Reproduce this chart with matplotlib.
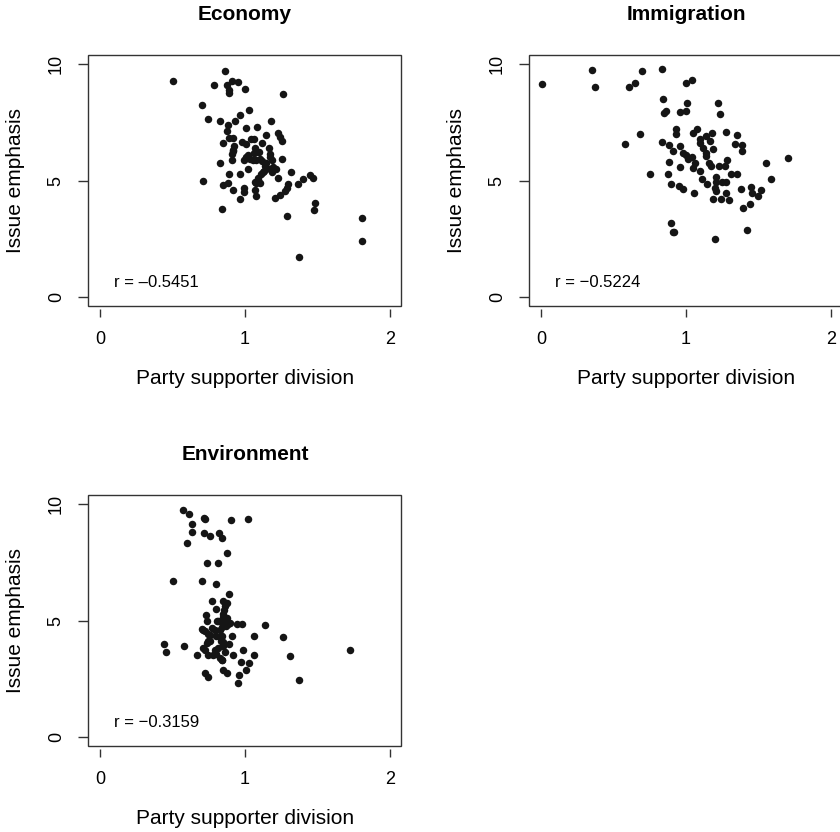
import matplotlib
matplotlib.use('Agg')
import matplotlib.pyplot as plt
from matplotlib.patches import Rectangle

plt.rcParams['font.family'] = ['Liberation Sans', 'DejaVu Sans']

# 数据：政党支持者分化 vs 议题强调
econ_x = [0.506, 0.860, 0.789, 0.874, 0.908, 0.949, 0.892, 0.890, 1.000, 1.260,
          0.703, 1.030, 0.963, 0.747, 0.830, 0.929, 0.880, 1.180, 1.010, 1.085,
          0.876, 1.230, 0.890, 0.920, 1.040, 1.064, 1.147, 1.240, 1.255, 0.846,
          0.982, 1.007, 1.120, 0.926, 1.070, 1.168, 0.920, 0.913, 1.060, 1.100,
          1.170, 1.005, 1.020, 1.035, 1.080, 1.120, 0.910, 0.995, 1.190, 1.255,
          0.828, 1.138, 1.170, 1.218, 1.020, 1.133, 1.190, 1.320, 0.892, 0.966,
          1.110, 1.448, 1.467, 1.400, 0.708, 1.087, 1.225, 1.368, 1.074, 1.103,
          0.880, 0.846, 1.300, 1.290, 1.276, 0.993, 0.995, 0.920, 1.067, 1.239,
          1.207, 1.080, 0.966, 1.487, 1.474, 0.844, 1.290, 1.810, 1.810, 1.370,
          1.011, 1.057, 1.103, 1.149, 1.195, 1.126, 1.092, 1.069, 1.172, 1.080,
          0.920]
econ_y = [9.30, 9.73, 9.10, 9.10, 9.30, 9.24, 8.91, 8.77, 8.94, 8.73,
          8.23, 8.05, 7.83, 7.65, 7.58, 7.55, 7.37, 7.54, 7.24, 7.30,
          7.12, 7.05, 6.84, 6.81, 6.80, 6.80, 6.97, 6.87, 6.70, 6.60,
          6.67, 6.57, 6.60, 6.48, 6.38, 6.41, 6.27, 6.12, 6.19, 6.22,
          6.15, 6.01, 6.08, 5.91, 5.88, 5.84, 5.88, 5.88, 5.87, 5.94,
          5.77, 5.62, 5.48, 5.51, 5.48, 5.41, 5.37, 5.35, 5.26, 5.26,
          5.26, 5.24, 5.12, 5.05, 4.98, 5.02, 5.12, 4.84, 4.91, 4.91,
          4.91, 4.79, 4.84, 4.69, 4.55, 4.69, 4.52, 4.58, 4.59, 4.36,
          4.26, 4.33, 4.22, 4.02, 3.72, 3.78, 3.46, 3.40, 2.40, 1.70,
          5.95, 5.88, 5.91, 5.74, 5.59, 5.38, 5.09, 4.95, 6.02, 6.24,
          6.31]

immi_x = [0.005, 0.354, 0.375, 0.697, 0.837, 0.609, 0.648, 1.002, 1.044, 0.841,
          0.848, 0.862, 0.961, 0.998, 1.009, 1.220, 1.232, 0.683, 0.579, 0.929,
          0.931, 1.050, 1.074, 1.136, 1.177, 1.280, 1.354, 0.834, 0.885, 0.913,
          0.956, 1.100, 1.165, 1.120, 1.184, 1.336, 1.386, 1.388, 0.982, 1.000,
          1.039, 1.138, 1.016, 1.064, 0.880, 0.959, 1.050, 1.100, 1.161, 1.170,
          1.230, 1.269, 1.285, 1.556, 1.706, 0.752, 0.874, 1.313, 1.354, 1.211,
          1.584, 1.113, 0.897, 0.954, 0.982, 1.149, 1.205, 1.246, 1.280, 1.200,
          1.207, 1.377, 1.446, 1.453, 1.515, 1.497, 1.053, 1.276, 1.184, 1.239,
          1.300, 1.441, 1.391, 0.897, 0.913, 0.920, 1.423, 1.202, 1.097, 1.142]
immi_y = [9.17, 9.76, 9.04, 9.73, 9.80, 9.03, 9.20, 9.20, 9.31, 8.51,
          7.91, 7.98, 7.95, 8.01, 8.33, 8.34, 7.87, 6.98, 6.55, 7.20,
          6.98, 7.05, 7.20, 6.91, 7.05, 7.10, 6.95, 6.67, 6.51, 6.27,
          6.48, 6.60, 6.70, 6.41, 6.34, 6.55, 6.51, 6.27, 6.19, 6.08,
          6.02, 6.05, 5.91, 5.77, 5.79, 5.58, 5.52, 5.41, 5.74, 5.62,
          5.62, 5.62, 5.88, 5.74, 5.98, 5.26, 5.26, 5.28, 5.28, 5.16,
          5.08, 5.05, 4.86, 4.76, 4.65, 4.84, 4.94, 4.94, 4.94, 4.69,
          4.55, 4.62, 4.72, 4.48, 4.59, 4.32, 4.45, 4.48, 4.19, 4.19,
          4.16, 3.98, 3.81, 3.15, 2.80, 2.79, 2.86, 2.50, 6.77, 6.20]

envi_x = [0.575, 0.614, 0.720, 0.726, 0.903, 1.020, 0.634, 0.634, 0.720, 0.759,
          0.818, 0.839, 0.602, 0.878, 0.740, 0.811, 0.506, 0.703, 0.800, 0.892,
          0.772, 0.848, 0.878, 0.800, 0.857, 0.731, 0.846, 0.878, 0.740, 0.805,
          0.851, 0.885, 0.947, 0.979, 1.138, 0.703, 0.770, 0.828, 0.747, 0.800,
          0.839, 0.913, 1.060, 1.260, 0.747, 0.834, 0.887, 0.441, 0.455, 0.582,
          0.713, 0.793, 0.851, 0.989, 1.724, 0.671, 0.747, 0.800, 0.915, 1.066,
          1.308, 0.839, 0.970, 1.028, 1.011, 0.851, 0.878, 0.961, 0.726, 0.747,
          1.375, 0.949, 0.759, 0.869, 0.811, 0.724, 0.828, 0.862,
          0.850, 0.874, 0.839, 0.793, 0.759, 0.828, 0.850, 0.736, 0.724, 0.816,
          0.862, 0.781, 0.839, 0.897, 0.713]
envi_y = [9.74, 9.57, 9.41, 9.38, 9.31, 9.35, 9.17, 8.81, 8.78, 8.64,
          8.78, 8.55, 8.35, 7.89, 7.46, 7.46, 6.70, 6.70, 6.59, 6.12,
          5.83, 5.86, 5.76, 5.50, 5.47, 5.22, 5.26, 5.11, 4.97, 4.97,
          4.90, 4.87, 4.83, 4.86, 4.81, 4.64, 4.68, 4.61, 4.44, 4.32,
          4.32, 4.32, 4.35, 4.31, 4.11, 4.11, 3.97, 4.01, 3.65, 3.92,
          3.82, 3.75, 3.89, 3.75, 3.72, 3.53, 3.53, 3.58, 3.53, 3.53,
          3.46, 3.29, 3.22, 3.18, 2.89, 2.89, 2.72, 2.64, 2.72, 2.57,
          2.46, 2.31, 4.11, 4.76, 4.97, 4.54, 3.39, 5.61,
          5.16, 4.95, 4.73, 4.59, 4.37, 4.30, 4.09, 4.02, 3.73, 3.80,
          3.66, 3.51, 3.30, 4.88, 4.59]

titles = ['Economy', 'Immigration', 'Environment']
r_labels = ['r = \u20130.5451', 'r = \u22120.5224', 'r = \u22120.3159']
xticks = [0, 1, 2]
yticks = [0, 5, 10]

fig = plt.figure(figsize=(8.4, 8.32), dpi=100)
W, H = 840, 832
# 每个子图的左边和底边(像素)
boxes = [(88.4, 306), (529.4, 306), (88.4, 746)]
aw, ah = 313, 251

datasets = [(econ_x, econ_y), (immi_x, immi_y), (envi_x, envi_y)]

for (x, y), title, rl, (l, b) in zip(datasets, titles, r_labels, boxes):
    ax = fig.add_axes([l / W, (H - b) / H, aw / W, ah / H])
    # 先移动底边，再设刻度（移动会重置刻度）
    for s in ax.spines.values():
        s.set_color('none')
    ax.spines['bottom'].set_position(('outward', 2))
    ax.plot(x, y, 'o', color='#151515', markersize=5.4, markeredgewidth=0)
    ax.set_xlim(-0.08, 2.08)
    ax.set_ylim(-0.4, 10.4)
    ax.set_xticks(xticks)
    ax.set_yticks(yticks)
    ax.set_yticklabels([str(t) for t in yticks], rotation=90, va='center')
    ax.tick_params(axis='x', length=6, width=1, color='#333333', pad=10, labelsize=13)
    ax.tick_params(axis='y', length=7, width=1, color='#333333', pad=10, labelsize=13)
    ax.add_patch(Rectangle((0, 0), 1, 1, transform=ax.transAxes, fill=False,
                           lw=1.0, ec='#333333', clip_on=False))
    ax.set_xlabel('Party supporter division', fontsize=15, va='center')
    ax.xaxis.set_label_coords(0.5, -0.287)
    ax.set_ylabel('Issue emphasis', fontsize=15, va='center')
    ax.yaxis.set_label_coords(-0.2345, 0.5)
    ax.set_title(title, fontsize=15, fontweight='bold', y=1.163, pad=0, va='center')
    ax.text(0.1, 0.59, rl, fontsize=12, ha='left', va='center')

fig.savefig('out.png', dpi=100)
